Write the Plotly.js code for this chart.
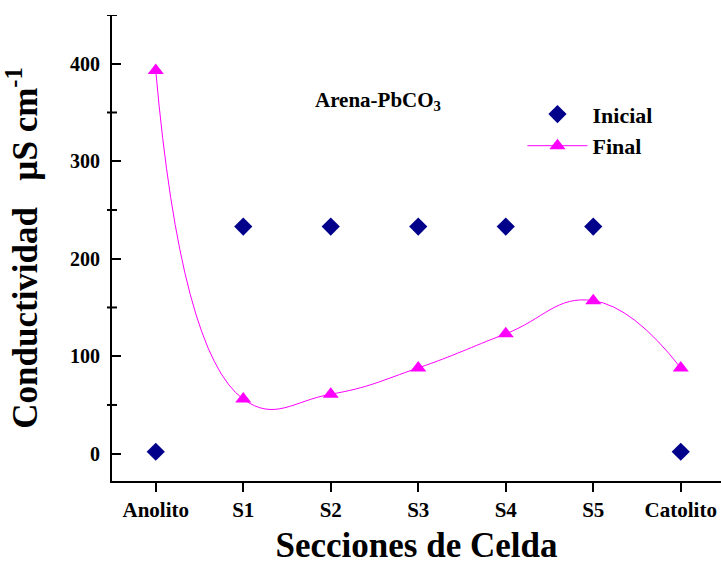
<!DOCTYPE html>
<html>
<head>
<meta charset="utf-8">
<script src="https://cdn.plot.ly/plotly-3.0.1.min.js"></script>
<style>body{margin:0;padding:0;background:#fff;}#chart{width:721px;height:565px;}</style>
</head>
<body>
<div id="chart"></div>
<script>
const categories = ["Anolito", "S1", "S2", "S3", "S4", "S5", "Catolito"];
const inicial = [2, 233, 233, 233, 233, 233, 2];
const final = [393, 56, 61, 88, 123, 157, 88];
const yTicks = [0, 100, 200, 300, 400];
const yMinor = [50, 150, 250, 350, 450];

const FONT = "Liberation Serif, Times New Roman, serif";
const xIdx = categories.map((c, i) => i);

const traces = [
  {
    x: xIdx, y: inicial, name: "Inicial", mode: "markers", type: "scatter",
    marker: {symbol: "diamond", size: 14, color: "#00008B"}
  },
  {
    x: xIdx, y: final, name: "Final", mode: "lines+markers", type: "scatter",
    line: {shape: "spline", smoothing: 1.3, color: "#FF00FF", width: 1},
    marker: {symbol: "triangle-up", size: 14, color: "#FF00FF"}
  }
];

const shapes = yMinor.map(v => ({
  type: "line", xref: "paper", yref: "y", xsizemode: "pixel", xanchor: 0,
  x0: -5, x1: 5, y0: v, y1: v, line: {color: "#000", width: 2}
}));

const layout = {
  width: 721, height: 565,
  margin: {l: 112, r: 0, t: 15, b: 84, autoexpand: false},
  paper_bgcolor: "#fff", plot_bgcolor: "#fff",
  showlegend: true,
  font: {family: FONT, color: "#000"},
  xaxis: {
    range: [-0.5, 6.46],
    automargin: true,
    tickmode: "array", tickvals: xIdx, ticktext: categories,
    showgrid: false, zeroline: false,
    showline: true, linecolor: "#000", linewidth: 2,
    ticks: "outside", ticklen: 9, tickwidth: 2, tickcolor: "#000",
    tickfont: {family: FONT, size: 21, color: "#000", weight: "bold"},
    title: {text: "<b>Secciones de Celda</b>", font: {family: FONT, size: 35, color: "#000"}, standoff: 20}
  },
  yaxis: {
    range: [-28, 450],
    automargin: true,
    tickmode: "array", tickvals: yTicks,
    showgrid: false, zeroline: false,
    showline: true, linecolor: "#000", linewidth: 2,
    ticks: "inside", ticklen: 9, tickwidth: 2, tickcolor: "#000",
    ticklabelstandoff: 6,
    tickfont: {family: FONT, size: 20, color: "#000", weight: "bold"},
    title: {text: "<b>Conductividad   µS cm<sup>-1</sup></b>", font: {family: FONT, size: 35, color: "#000"}, standoff: 22}
  },
  legend: {
    x: 0.674, y: 0.832, xanchor: "left", yanchor: "top",
    bgcolor: "rgba(0,0,0,0)",
    font: {family: FONT, size: 22, color: "#000", weight: "bold"},
    itemwidth: 60, tracegroupgap: 0
  },
  annotations: [{
    xref: "paper", yref: "paper", x: 0.437, y: 0.815, xanchor: "center", yanchor: "middle",
    text: "<b>Arena-PbCO<sub>3</sub></b>", showarrow: false,
    font: {family: FONT, size: 21, color: "#000"}
  }],
  shapes: shapes
};

Plotly.newPlot("chart", traces, layout, {displayModeBar: false, staticPlot: true});
</script>
</body>
</html>
